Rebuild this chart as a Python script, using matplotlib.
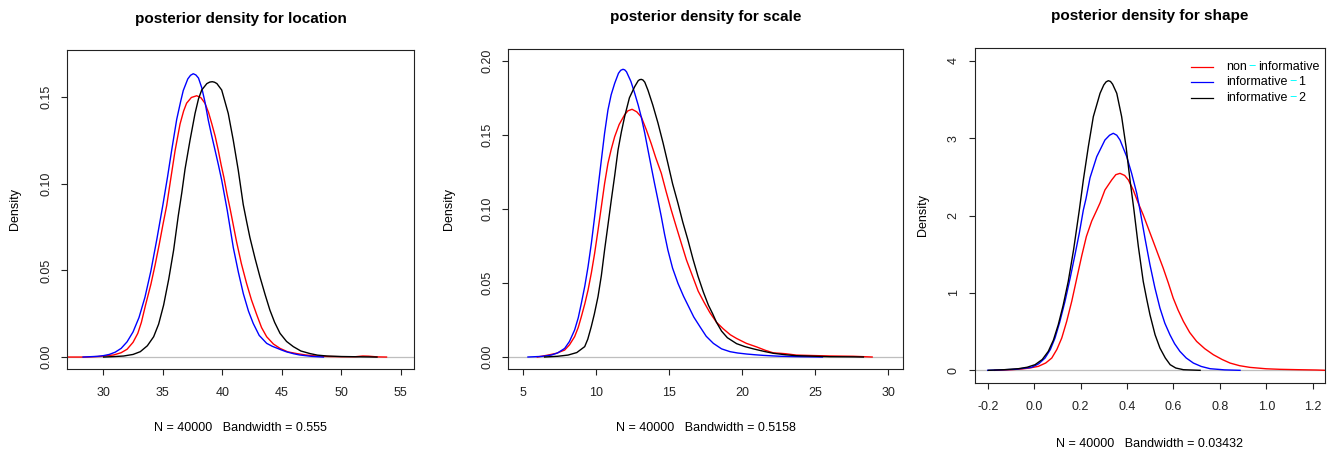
import matplotlib
matplotlib.use('Agg')
import matplotlib.pyplot as plt
from matplotlib.lines import Line2D
from matplotlib.offsetbox import AnchoredOffsetbox, DrawingArea, HPacker, TextArea, VPacker

plt.rcParams['font.family'] = ['Liberation Sans', 'DejaVu Sans']
plt.rcParams['axes.unicode_minus'] = False

# ---- location: density curves ----
loc_non_x = [26.95, 28.63, 29.8, 30.87, 31.5, 32.0, 32.5, 32.9, 33.2, 33.55, 34.0, 34.35,
             34.7, 35.0, 35.33, 35.66, 36.03, 36.45, 36.75, 37.0, 37.4, 37.85, 38.2, 38.55,
             38.85, 39.11, 39.4, 39.66, 39.9, 40.14, 40.4, 40.65, 41.2, 41.6, 42.04, 42.45,
             42.89, 43.3, 43.73, 44.3, 44.85, 45.5, 46.25, 47.0, 47.9, 49.0, 50.0, 51.2,
             51.8, 52.3, 53.0, 53.8]
loc_non_y = [0.0, 0.0, 0.0004, 0.0012, 0.0025, 0.0045, 0.0085, 0.0137, 0.020, 0.030, 0.042,
             0.053, 0.065, 0.076, 0.0875, 0.1025, 0.119, 0.1345, 0.142, 0.1465, 0.1498,
             0.1508, 0.1497, 0.1464, 0.141, 0.1348, 0.1275, 0.1194, 0.111, 0.1035, 0.094,
             0.0858, 0.0665, 0.054, 0.0425, 0.033, 0.0245, 0.017, 0.0117, 0.0075, 0.005,
             0.003, 0.002, 0.0012, 0.0006, 0.0003, 0.0002, 0.0002, 0.0006, 0.0005, 0.0001,
             0.0]
loc_inf1_x = [28.3, 29.5, 30.0, 30.5, 31.0, 31.5, 32.0, 32.5, 33.0, 33.5, 34.0, 34.5, 35.0,
              35.4, 35.75, 36.17, 36.5, 36.72, 37.1, 37.33, 37.56, 37.78, 38.0, 38.27, 38.55,
              38.82, 39.1, 39.39, 39.67, 39.95, 40.42, 40.93, 41.35, 41.77, 42.2, 42.6, 43.1,
              43.73, 44.2, 44.57, 45.0, 45.4, 46.0, 46.5, 47.5, 48.5]
loc_inf1_y = [0.0, 0.0004, 0.0008, 0.0015, 0.0028, 0.005, 0.0088, 0.0145, 0.0228, 0.0345,
              0.0497, 0.068, 0.0875, 0.104, 0.1195, 0.1372, 0.1475, 0.1538, 0.1605, 0.1626,
              0.1635, 0.1628, 0.161, 0.1555, 0.147, 0.1368, 0.128, 0.1194, 0.111, 0.1021,
              0.0845, 0.063, 0.049, 0.0365, 0.0265, 0.0194, 0.0125, 0.0079, 0.0062, 0.0052,
              0.004, 0.003, 0.0019, 0.0012, 0.0004, 0.0]
loc_inf2_x = [30.03, 31.0, 31.71, 32.5, 33.11, 33.7, 34.23, 34.65, 35.07, 35.5, 35.91, 36.3,
              36.6, 36.87, 37.29, 37.71, 38.0, 38.27, 38.7, 38.95, 39.16, 39.35, 39.55, 39.95,
              40.2, 40.5, 40.92, 41.34, 41.76, 42.05, 42.32, 42.75, 43.16, 43.6, 44.0, 44.4,
              44.85, 45.4, 45.97, 46.6, 47.37, 48.0, 48.8, 50.0, 51.0, 52.0, 53.0]
loc_inf2_y = [0.0, 0.0003, 0.0006, 0.0015, 0.0031, 0.0065, 0.0117, 0.019, 0.030, 0.045,
              0.0617, 0.0815, 0.095, 0.1085, 0.1252, 0.1406, 0.149, 0.1541, 0.1578, 0.1587,
              0.1589, 0.1586, 0.1578, 0.1541, 0.148, 0.1406, 0.1252, 0.1079, 0.088, 0.078,
              0.069, 0.057, 0.0464, 0.036, 0.0271, 0.020, 0.0137, 0.009, 0.006, 0.0035, 0.002,
              0.0011, 0.0006, 0.0003, 0.0002, 0.0001, 0.0]

# ---- scale ----
sc_non_x = [6.0, 6.73, 7.3, 7.87, 8.2, 8.55, 8.8, 9.01, 9.25, 9.47, 9.7, 9.92, 10.15, 10.38,
            10.6, 10.83, 11.05, 11.29, 11.6, 11.97, 12.2, 12.48, 12.8, 13.11, 13.45, 13.79,
            14.1, 14.48, 14.8, 15.16, 15.5, 15.85, 16.2, 16.6, 17.0, 17.4, 17.8, 18.25,
            18.72, 19.2, 19.63, 20.3, 21.0, 21.6, 22.14, 22.6, 23.0, 23.7, 24.8, 26.0,
            27.6, 28.9]
sc_non_y = [0.0, 0.0013, 0.0025, 0.0047, 0.0082, 0.0137, 0.020, 0.0272, 0.036, 0.0452,
            0.057, 0.070, 0.0855, 0.1015, 0.117, 0.1307, 0.140, 0.1487, 0.157, 0.1635,
            0.1662, 0.1672, 0.1655, 0.162, 0.1535, 0.144, 0.1345, 0.124, 0.112, 0.0992,
            0.088, 0.0767, 0.0655, 0.055, 0.0445, 0.037, 0.030, 0.0235, 0.019, 0.015,
            0.0125, 0.0092, 0.0068, 0.0045, 0.0028, 0.0025, 0.0022, 0.0013, 0.001, 0.0007,
            0.0005, 0.0]
sc_inf1_x = [5.36, 6.3, 6.96, 7.4, 7.87, 8.2, 8.55, 8.8, 9.01, 9.25, 9.47, 9.7, 9.92, 10.15,
             10.38, 10.6, 10.83, 11.05, 11.29, 11.55, 11.7, 11.86, 11.98, 12.1, 12.4, 12.66,
             12.9, 13.11, 13.35, 13.57, 13.8, 14.02, 14.25, 14.48, 14.7, 14.93, 15.25, 15.62,
             16.0, 16.35, 16.7, 17.12, 17.55, 18.04, 18.6, 19.18, 19.7, 20.32, 20.9, 21.45,
             22.0, 22.6, 24.0, 25.5]
sc_inf1_y = [0.0, 0.0004, 0.0013, 0.0028, 0.0058, 0.0105, 0.0182, 0.0265, 0.0362, 0.048,
             0.061, 0.077, 0.0947, 0.114, 0.133, 0.151, 0.1667, 0.177, 0.1847, 0.1915, 0.1935,
             0.1942, 0.1938, 0.1925, 0.186, 0.178, 0.170, 0.162, 0.151, 0.1397, 0.128, 0.117,
             0.106, 0.0947, 0.083, 0.0722, 0.060, 0.0497, 0.041, 0.034, 0.027, 0.0205, 0.014,
             0.0092, 0.0055, 0.0036, 0.0027, 0.002, 0.0015, 0.0011, 0.0008, 0.0005, 0.0002,
             0.0]
sc_inf2_x = [6.5, 7.4, 8.1, 8.7, 9.24, 9.45, 9.69, 9.9, 10.15, 10.38, 10.6, 10.83, 11.06,
             11.3, 11.52, 11.75, 11.97, 12.3, 12.66, 12.9, 13.0, 13.11, 13.22, 13.35, 13.57,
             13.9, 14.25, 14.6, 14.93, 15.25, 15.62, 15.95, 16.3, 16.65, 16.99, 17.35, 17.7,
             18.0, 18.25, 18.6, 19.0, 19.63, 20.2, 20.77, 21.5, 22.14, 23.0, 23.7, 25.0, 26.0,
             27.5, 28.3]
sc_inf2_y = [0.0, 0.0005, 0.0013, 0.003, 0.007, 0.012, 0.0205, 0.029, 0.0407, 0.055, 0.0722,
             0.089, 0.106, 0.123, 0.1397, 0.152, 0.1622, 0.175, 0.1825, 0.1865, 0.1872,
             0.1874, 0.1870, 0.1855, 0.180, 0.170, 0.158, 0.1445, 0.1307, 0.117, 0.1037,
             0.091, 0.079, 0.066, 0.0545, 0.044, 0.035, 0.029, 0.0235, 0.0175, 0.013, 0.009,
             0.007, 0.0055, 0.0038, 0.0025, 0.0015, 0.0009, 0.0005, 0.0002, 0.0001, 0.0]

# ---- shape ----
sh_non_x = [-0.17, -0.1, -0.054, -0.02, 0.018, 0.05, 0.076, 0.098, 0.119, 0.14, 0.162, 0.183,
            0.205, 0.225, 0.248, 0.2696, 0.284, 0.305, 0.334, 0.352, 0.370, 0.39, 0.406,
            0.427, 0.449, 0.470, 0.49, 0.513, 0.535, 0.556, 0.578, 0.599, 0.62, 0.643, 0.67,
            0.700, 0.735, 0.772, 0.81, 0.844, 0.885, 0.930, 1.0, 1.059, 1.14, 1.217, 1.26]
sh_non_y = [0.0, 0.008, 0.017, 0.03, 0.051, 0.095, 0.159, 0.27, 0.418, 0.63, 0.892, 1.18,
            1.48, 1.73, 1.93, 2.07, 2.165, 2.332, 2.461, 2.53, 2.547, 2.52, 2.461, 2.332,
            2.159, 2.01, 1.85, 1.667, 1.49, 1.322, 1.13, 0.935, 0.78, 0.633, 0.49, 0.374,
            0.28, 0.202, 0.14, 0.094, 0.06, 0.038, 0.02, 0.013, 0.008, 0.004, 0.0]
sh_inf1_x = [-0.2, -0.082, -0.011, 0.02, 0.047, 0.07, 0.090, 0.11, 0.133, 0.155, 0.176, 0.195,
             0.212, 0.2235, 0.2408, 0.2696, 0.305, 0.325, 0.341, 0.356, 0.370, 0.399, 0.42,
             0.442, 0.456, 0.478, 0.499, 0.52, 0.542, 0.563, 0.585, 0.605, 0.628, 0.655,
             0.686, 0.72, 0.758, 0.82, 0.887]
sh_inf1_y = [0.0, 0.013, 0.038, 0.085, 0.159, 0.27, 0.418, 0.62, 0.892, 1.19, 1.495, 1.78,
             2.073, 2.22, 2.49, 2.762, 2.978, 3.04, 3.065, 3.04, 2.978, 2.762, 2.547, 2.289,
             2.073, 1.70, 1.365, 1.07, 0.805, 0.61, 0.46, 0.345, 0.245, 0.16, 0.094, 0.05,
             0.021, 0.006, 0.0]
sh_inf2_x = [-0.197, -0.13, -0.068, -0.03, 0.004, 0.035, 0.061, 0.083, 0.104, 0.125, 0.147,
             0.17, 0.1947, 0.212, 0.2335, 0.255, 0.284, 0.30, 0.31, 0.3197, 0.329, 0.338,
             0.356, 0.377, 0.396, 0.413, 0.430, 0.449, 0.470, 0.485, 0.499, 0.521, 0.542,
             0.565, 0.586, 0.61, 0.643, 0.715]
sh_inf2_y = [0.0, 0.008, 0.021, 0.04, 0.073, 0.14, 0.245, 0.39, 0.590, 0.84, 1.150, 1.56,
             2.073, 2.461, 2.892, 3.28, 3.582, 3.69, 3.73, 3.745, 3.735, 3.70, 3.582, 3.28,
             2.892, 2.461, 2.073, 1.60, 1.15, 0.92, 0.719, 0.46, 0.288, 0.16, 0.073, 0.03,
             0.008, 0.0]

titles = ['posterior density for location', 'posterior density for scale',
          'posterior density for shape']
bandwidths = ['0.555', '0.5158', '0.03432']
n_draws = 40000
series_colors = ['red', 'blue', 'black']
legend_pieces = [['non', '\u2212', 'informative'],
                 ['informative', '\u2212', '1'],
                 ['informative', '\u2212', '2']]

W, H = 1333, 453
fig = plt.figure(figsize=(W / 100, H / 100), dpi=100)


def px_axes(left, top, right, bottom):
    return fig.add_axes([left / W, 1 - bottom / H, (right - left) / W, (bottom - top) / H])


ax1 = px_axes(67, 50, 414, 369)
ax2 = px_axes(508.3, 49, 902.7, 369)
ax3 = px_axes(974.7, 48.3, 1325, 382.7)

panels = [
    (ax1, [(loc_non_x, loc_non_y), (loc_inf1_x, loc_inf1_y), (loc_inf2_x, loc_inf2_y)],
     (26.95, 56.11), (-0.0069, 0.1772), [30, 35, 40, 45, 50, 55],
     [0.0, 0.05, 0.10, 0.15], '{:.2f}', '{:g}'),
    (ax2, [(sc_non_x, sc_non_y), (sc_inf1_x, sc_inf1_y), (sc_inf2_x, sc_inf2_y)],
     (4.015, 30.99), (-0.0081, 0.2079), [5, 10, 15, 20, 25, 30],
     [0.0, 0.05, 0.10, 0.15, 0.20], '{:.2f}', '{:g}'),
    (ax3, [(sh_non_x, sh_non_y), (sh_inf1_x, sh_inf1_y), (sh_inf2_x, sh_inf2_y)],
     (-0.256, 1.253), (-0.160, 4.164), [-0.2, 0.0, 0.2, 0.4, 0.6, 0.8, 1.0, 1.2],
     [0, 1, 2, 3, 4], '{:g}', '{:.1f}'),
]

for ax, curves, xl, yl, xt, yt, yfmt, xfmt in panels:
    ax.axhline(0, color='#bebebe', lw=0.9, zorder=1)
    for (x, y), c in zip(curves, series_colors):
        ax.plot(x, y, color=c, lw=1.0, zorder=2)
    ax.set_xlim(*xl)
    ax.set_ylim(*yl)
    ax.set_xticks(xt)
    ax.set_xticklabels([xfmt.format(v) for v in xt])
    ax.set_yticks(yt)
    ax.set_yticklabels([yfmt.format(v) for v in yt])
    ax.tick_params(direction='out', length=4.3, width=0.8, labelsize=9, colors='#222222')
    ax.tick_params(axis='x', pad=9)
    ax.tick_params(axis='y', pad=6.5, labelrotation=90)
    for lab in ax.get_yticklabels():
        lab.set_va('center')
    for s in ax.spines.values():
        s.set_linewidth(0.8)
        s.set_color('#222222')

# titles, x labels and y labels placed like R's margins
title_pos = [(240.5, 19), (705.5, 17.3), (1150, 15.7)]
xlab_pos = [(240.5, 427.7), (705.5, 428.3), (1150, 444.3)]
ylab_pos = [(15, 209.5), (449, 209), (922.7, 215.5)]
for t, (tx, ty), (lx, ly), (yx, yy), bw in zip(titles, title_pos, xlab_pos, ylab_pos, bandwidths):
    fig.text(tx / W, 1 - ty / H, t, ha='center', va='center', fontsize=11, fontweight='bold')
    fig.text(lx / W, 1 - ly / H, 'N = %d   Bandwidth = %s' % (n_draws, bw),
             ha='center', va='center', fontsize=9)
    fig.text(yx / W, 1 - yy / H, 'Density', ha='center', va='center', fontsize=9,
             rotation=90)

# legend without a frame, with the cyan minus signs
rows = []
for col, pieces in zip(series_colors, legend_pieces):
    da = DrawingArea(16, 8, 0, 0)
    da.add_artist(Line2D([0, 16], [4, 4], color=col, lw=0.9))
    texts = [TextArea(p, textprops=dict(fontsize=9, color='cyan' if p == '\u2212' else 'black'))
             for p in pieces]
    inner = HPacker(children=texts, align='baseline', pad=0, sep=1.5)
    rows.append(HPacker(children=[da, inner], align='center', pad=0, sep=9))
box = VPacker(children=rows, align='left', pad=0, sep=2.5)
anch = AnchoredOffsetbox(loc='upper left', child=box, pad=0, borderpad=0, frameon=False,
                         bbox_to_anchor=(1191 / W, 1 - 61 / H),
                         bbox_transform=fig.transFigure)
ax3.add_artist(anch)

fig.savefig('out.png', dpi=100)
